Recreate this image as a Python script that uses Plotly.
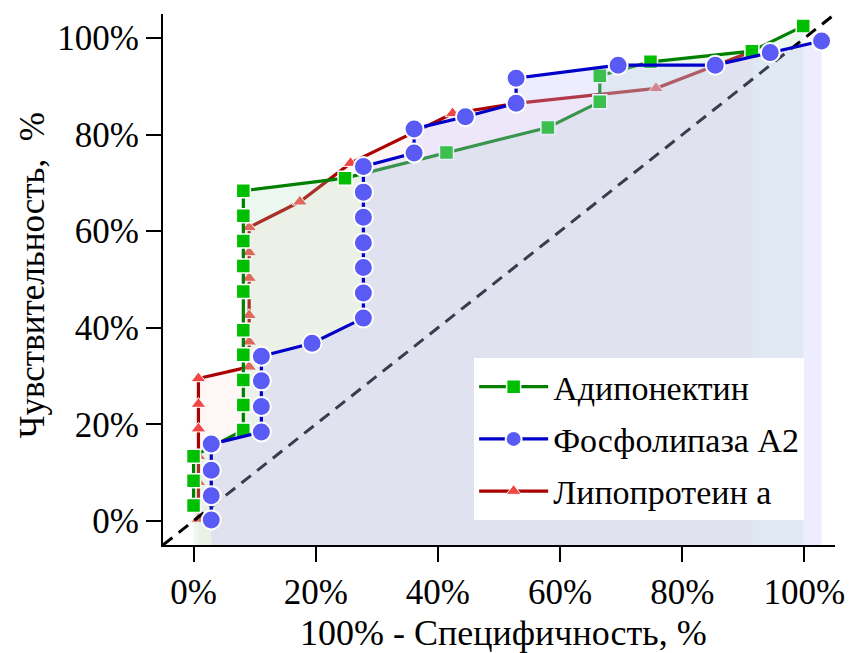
import plotly.graph_objects as go

# ROC curves: x = 100% - specificity, y = sensitivity (both in %)
adipo_x = [0.0, 0.0, 0.0, 8.15, 8.15, 8.15, 8.15, 8.15, 8.15, 8.15, 8.15, 8.15, 8.15,
           24.8, 41.4, 58.0, 66.5, 66.5, 74.8, 91.4, 99.8]
adipo_y = [3.2, 8.3, 13.4, 18.8, 24.0, 29.2, 34.4, 39.5, 47.5, 52.8, 58.0, 63.2, 68.4,
           71.0, 76.3, 81.5, 86.8, 92.2, 95.1, 97.3, 102.5]

pla2_x = [2.9, 2.9, 2.9, 2.9, 11.1, 11.1, 11.1, 11.1, 19.4, 27.8, 27.8, 27.8, 27.8,
          27.8, 27.8, 27.8, 36.1, 36.1, 44.5, 52.8, 52.8, 69.5, 85.4, 94.4, 102.8]
pla2_y = [0.2, 5.2, 10.5, 15.9, 18.4, 23.7, 29.0, 34.1, 36.8, 42.0, 47.2, 52.5, 57.6,
          62.9, 68.1, 73.4, 76.2, 81.2, 83.7, 86.5, 91.7, 94.4, 94.4, 97.0, 99.4]

lpa_x = [0.8, 0.8, 0.8, 0.8, 0.8, 0.8, 9.1, 9.1, 9.1, 9.1, 9.1, 9.1,
         17.4, 25.7, 42.4, 52.8, 75.7, 91.5]
lpa_y = [0.4, 8.0, 13.4, 19.1, 24.2, 29.5, 31.9, 37.1, 42.6, 50.3, 55.6, 60.8,
         66.1, 74.1, 84.4, 86.5, 89.6, 97.3]

# chance line and axis extent
diag = [-5, 105]
axis_range = [-5, 105]
tick_vals = [0, 20, 40, 60, 80, 100]
tick_text = [f"{v}%" for v in tick_vals]

FONT = '"Liberation Serif", "Times New Roman", Times, serif'

series = {
    "lpa": ("Липопротеин а", lpa_x, lpa_y, "#aa0000", "#f04646", "triangle-up", 13, 1.0,
            "rgba(255,150,150,0.09)", 3),
    "adipo": ("Адипонектин", adipo_x, adipo_y, "#008000", "#00bf00", "square", 14, 1.5,
              "rgba(170,225,180,0.22)", 1),
    "pla2": ("Фосфолипаза А2", pla2_x, pla2_y, "#0000c8", "#5a5af5", "circle", 19, 2.0,
             "rgba(195,195,255,0.3)", 2),
}

fig = go.Figure()
base = axis_range[0]


def add_series(key):
    name, xs, ys, lc, mc, sym, size, edge, fc, rank = series[key]
    # area under the curve, closed down to the bottom of the axes
    fig.add_trace(go.Scatter(
        x=list(xs) + [xs[-1], xs[0]],
        y=list(ys) + [base, base],
        mode="lines", fill="toself", fillcolor=fc,
        line=dict(width=0), showlegend=False, hoverinfo="skip",
    ))
    fig.add_trace(go.Scatter(
        x=xs, y=ys, name=name, mode="lines+markers",
        line=dict(color=lc, width=3.2),
        marker=dict(symbol=sym, size=size, color=mc,
                    line=dict(color="white", width=edge)),
        legendrank=rank, legendgroup=name,
    ))


add_series("lpa")
add_series("adipo")

fig.add_trace(go.Scatter(
    x=diag, y=diag, mode="lines",
    line=dict(color="black", width=3, dash="12px,8px"),
    showlegend=False, hoverinfo="skip",
))

add_series("pla2")

axis_common = dict(
    range=axis_range, tickvals=tick_vals, ticktext=tick_text,
    showgrid=False, zeroline=False, showline=True, linecolor="black", linewidth=2,
    ticks="outside", ticklen=15, tickwidth=2, tickcolor="black",
    tickfont=dict(family=FONT, size=35, color="black"),
)

fig.update_layout(
    width=857, height=653, autosize=False,
    margin=dict(l=163, r=14, t=14, b=108),
    plot_bgcolor="white", paper_bgcolor="white",
    xaxis=axis_common, yaxis=axis_common,
    font=dict(family=FONT, color="black"),
    legend=dict(
        x=0.463, y=0.352, xanchor="left", yanchor="top",
        bgcolor="white", borderwidth=0, itemwidth=69,
        font=dict(family=FONT, size=34, color="black"),
        traceorder="grouped", tracegroupgap=5,
    ),
    annotations=[
        dict(text="100% - Специфичность, %", xref="paper", yref="paper",
             x=0.507, y=0, yshift=-88, xanchor="center", yanchor="middle",
             showarrow=False, font=dict(family=FONT, size=36, color="black")),
        dict(text="Чувствительность,\u00a0 %", xref="paper", yref="paper",
             x=0, xshift=-131, y=0.508, xanchor="center", yanchor="middle",
             textangle=-90, showarrow=False,
             font=dict(family=FONT, size=35, color="black")),
    ],
)

fig.write_html("out.html")
